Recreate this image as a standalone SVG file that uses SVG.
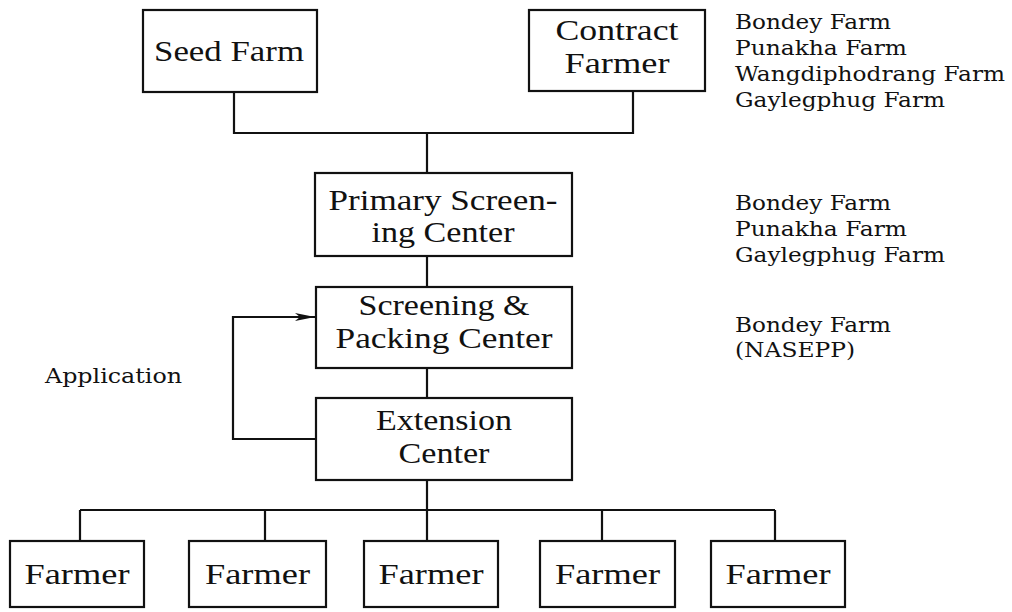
<svg xmlns="http://www.w3.org/2000/svg" width="1012" height="612" viewBox="0 0 1012 612">
<defs>
<style>
.box{fill:#fff;stroke:#111;stroke-width:2.2}
.bt{font-family:"Liberation Serif","Times New Roman",serif;font-size:29px;fill:#111;text-anchor:middle}
.nt{font-family:"DejaVu Serif",serif;font-size:21px;fill:#111}
.ln{fill:none;stroke:#111;stroke-width:2.2}
</style>
<marker id="ah" markerWidth="22" markerHeight="12" refX="20" refY="6" orient="auto" markerUnits="userSpaceOnUse">
<path d="M0,2 L20,6 L0,10 L5,6 Z" fill="#111"/>
</marker>
</defs>
<rect width="1012" height="612" fill="#fff"/>
<g id="connectors">
<path class="ln" d="M234 92 V133 H633 V91"/>
<path class="ln" d="M427 133 V173"/>
<path class="ln" d="M427 256 V287"/>
<path class="ln" d="M427 368 V398"/>
<path class="ln" d="M427 480 V510"/>
<path class="ln" d="M80 510 H775"/>
<path class="ln" d="M80 510 V541 M265 510 V541 M427 510 V541 M602 510 V541 M775 510 V541"/>
<path class="ln" d="M316 439 H233 V317 H315" marker-end="url(#ah)"/>
</g>
<g id="seed-farm">
<rect class="box" x="143" y="10" width="174" height="82"/>
<text class="bt" x="229" y="61" textLength="150" lengthAdjust="spacingAndGlyphs">Seed Farm</text>
</g>
<g id="contract-farmer">
<rect class="box" x="529" y="10" width="176" height="81"/>
<text class="bt" x="617" y="40" textLength="123" lengthAdjust="spacingAndGlyphs">Contract</text>
<text class="bt" x="617" y="72.5" textLength="105" lengthAdjust="spacingAndGlyphs">Farmer</text>
</g>
<g id="primary-screening">
<rect class="box" x="315" y="173" width="257" height="83"/>
<text class="bt" x="443" y="209.5" textLength="229" lengthAdjust="spacingAndGlyphs">Primary Screen-</text>
<text class="bt" x="443" y="242" textLength="143" lengthAdjust="spacingAndGlyphs">ing Center</text>
</g>
<g id="screening-packing">
<rect class="box" x="316" y="287" width="256" height="81"/>
<text class="bt" x="444" y="315" textLength="171" lengthAdjust="spacingAndGlyphs">Screening &amp;</text>
<text class="bt" x="444" y="347.5" textLength="217" lengthAdjust="spacingAndGlyphs">Packing Center</text>
</g>
<g id="extension-center">
<rect class="box" x="316" y="398" width="256" height="82"/>
<text class="bt" x="444" y="430" textLength="136" lengthAdjust="spacingAndGlyphs">Extension</text>
<text class="bt" x="444" y="462.5" textLength="91" lengthAdjust="spacingAndGlyphs">Center</text>
</g>
<g id="farmer-1">
<rect class="box" x="10" y="541" width="134" height="66"/>
<text class="bt" x="77" y="584" textLength="105" lengthAdjust="spacingAndGlyphs">Farmer</text>
</g>
<g id="farmer-2">
<rect class="box" x="189" y="541" width="137" height="66"/>
<text class="bt" x="257.5" y="584" textLength="105" lengthAdjust="spacingAndGlyphs">Farmer</text>
</g>
<g id="farmer-3">
<rect class="box" x="364" y="541" width="134" height="66"/>
<text class="bt" x="431" y="584" textLength="105" lengthAdjust="spacingAndGlyphs">Farmer</text>
</g>
<g id="farmer-4">
<rect class="box" x="540" y="541" width="135" height="66"/>
<text class="bt" x="607.5" y="584" textLength="105" lengthAdjust="spacingAndGlyphs">Farmer</text>
</g>
<g id="farmer-5">
<rect class="box" x="711" y="541" width="134" height="66"/>
<text class="bt" x="778" y="584" textLength="105" lengthAdjust="spacingAndGlyphs">Farmer</text>
</g>
<g id="notes">
<text class="nt" x="735" y="29" textLength="156" lengthAdjust="spacingAndGlyphs">Bondey Farm</text>
<text class="nt" x="735" y="55" textLength="172" lengthAdjust="spacingAndGlyphs">Punakha Farm</text>
<text class="nt" x="735" y="81" textLength="270" lengthAdjust="spacingAndGlyphs">Wangdiphodrang Farm</text>
<text class="nt" x="735" y="107" textLength="210" lengthAdjust="spacingAndGlyphs">Gaylegphug Farm</text>
<text class="nt" x="735" y="210" textLength="156" lengthAdjust="spacingAndGlyphs">Bondey Farm</text>
<text class="nt" x="735" y="236" textLength="172" lengthAdjust="spacingAndGlyphs">Punakha Farm</text>
<text class="nt" x="735" y="262" textLength="210" lengthAdjust="spacingAndGlyphs">Gaylegphug Farm</text>
<text class="nt" x="735" y="332" textLength="156" lengthAdjust="spacingAndGlyphs">Bondey Farm</text>
<text class="nt" x="735" y="357" textLength="120" lengthAdjust="spacingAndGlyphs">(NASEPP)</text>
<text class="nt" x="45" y="383" textLength="137" lengthAdjust="spacingAndGlyphs">Application</text>
</g>
</svg>
